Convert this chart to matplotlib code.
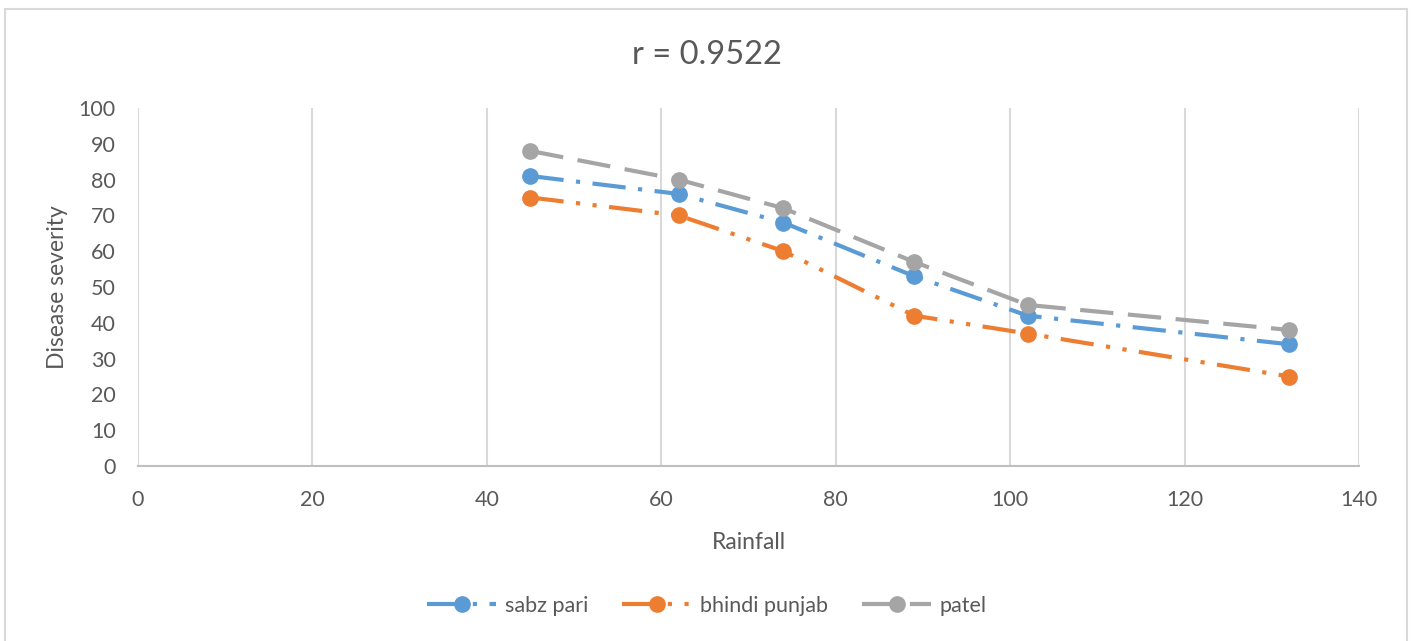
import matplotlib
matplotlib.use('Agg')
import matplotlib.pyplot as plt
from matplotlib.patches import Rectangle

plt.rcParams['font.family'] = ['Lato', 'DejaVu Sans']

# data
rainfall = [45, 62, 74, 89, 102, 132]
sabz_pari = [81, 76, 68, 53, 42, 34]
bhindi_punjab = [75, 70, 60, 42, 37, 25]
patel = [88, 80, 72, 57, 45, 38]

fig = plt.figure(figsize=(14.14, 6.41), dpi=100)
ax = fig.add_axes([138 / 1414, 1 - 466 / 641, (1359 - 138) / 1414, (466 - 108) / 641])

# chart border like excel
fig.patches.append(Rectangle((5 / 1414, -0.01), 1402 / 1414, 1 - 9 / 641 + 0.01,
                             transform=fig.transFigure, fill=False,
                             edgecolor='#d9d9d9', lw=1.5))

lw = 3
ms = 11
ax.plot(rainfall, sabz_pari, color='#5b9bd5', lw=lw, marker='o', ms=ms,
        dashes=(8, 3, 1, 3), label='sabz pari')
ax.plot(rainfall, bhindi_punjab, color='#ed7d31', lw=lw, marker='o', ms=ms,
        dashes=(8, 3, 1, 3, 1, 3), label='bhindi punjab')
ax.plot(rainfall, patel, color='#a5a5a5', lw=lw, marker='o', ms=ms,
        dashes=(8, 3.5), label='patel')

ax.set_xlim(0, 140)
ax.set_ylim(0, 100)
ax.set_xticks(range(0, 141, 20))
ax.set_yticks(range(0, 101, 10))
ax.grid(axis='x', color='#d9d9d9', lw=1.5)
ax.set_axisbelow(True)
for s in ['top', 'right', 'left']:
    ax.spines[s].set_visible(False)
ax.spines['bottom'].set_color('#bfbfbf')
ax.spines['bottom'].set_linewidth(1.5)
ax.tick_params(length=0, labelsize=15.5, labelcolor='#595959')
ax.tick_params(axis='x', pad=17)
ax.tick_params(axis='y', pad=16)

ax.set_xlabel('Rainfall', fontsize=16.5, color='#595959', labelpad=16)
ax.set_ylabel('Disease severity', fontsize=16.5, color='#595959', labelpad=8)
fig.text(0.5, 1 - 55 / 641, 'r = 0.9522', ha='center', va='center',
         fontsize=23.5, color='#595959')

ax.legend(loc='center', bbox_to_anchor=(0.5, 1 - 606 / 641), bbox_transform=fig.transFigure,
          ncol=3, frameon=False, fontsize=15.5, labelcolor='#595959',
          handlelength=3.2, columnspacing=1.6, handletextpad=0.4)

fig.savefig('out.png', dpi=100)
